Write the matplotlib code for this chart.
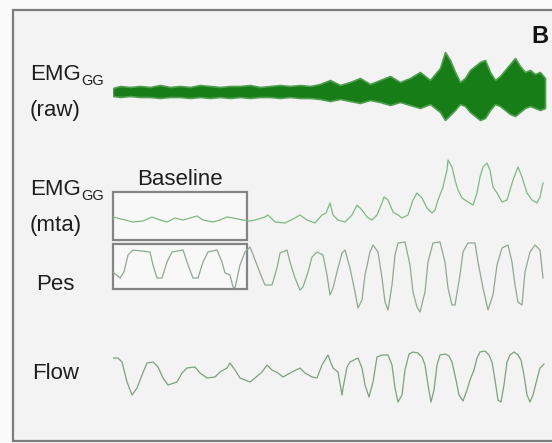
import numpy as np
import matplotlib.pyplot as plt
from matplotlib.patches import Rectangle

# -------------------------
# Data (time in s, signals in arbitrary units)
# -------------------------

# raw EMG envelope
raw_t = [0, 0.7, 1.7, 2.7, 3.7, 4.7, 5.7, 6.7, 7.7, 8.7, 9.7, 10.7, 11.7, 12.7,
         13.7, 14.7, 15.7, 16.7, 17.7, 18.7, 19.7, 20.7, 21.7, 22.7, 23.7, 24.7,
         25.7, 26.7, 27.7, 28.7, 29.7, 30.7, 31.7, 32.7, 33.2, 33.7, 34.2, 34.7,
         35.2, 35.7, 36.2, 36.7, 37.2, 37.7, 38.2, 38.7, 39.2, 39.7, 40.2, 40.7,
         41.2, 41.7, 42.2, 42.7, 43.2]
raw_hi = [4, 6, 5, 6, 5, 7, 5, 6, 5, 7, 6, 5, 6, 6,
          7, 5, 6, 7, 6, 7, 6, 8, 12, 7, 10, 14,
          8, 12, 16, 10, 14, 20, 12, 24, 40, 32, 20, 10,
          14, 22, 26, 30, 32, 20, 12, 16, 22, 28, 34, 26,
          20, 22, 18, 20, 14]
raw_lo = [-4, -5, -4, -5, -5, -6, -5, -5, -6, -5, -6, -5, -6, -5,
          -6, -5, -5, -6, -5, -6, -6, -7, -9, -7, -9, -11,
          -8, -10, -13, -10, -13, -16, -12, -20, -28, -23, -18, -12,
          -14, -20, -24, -28, -26, -18, -12, -14, -18, -22, -24, -20,
          -16, -14, -16, -18, -16]

# moving time average EMG
mta_t = [0.0, 1.2, 2.0, 3.0, 3.9, 4.7, 5.4, 6.2, 7.0, 7.7, 8.4, 9.0, 10.0, 10.7,
         11.4, 12.0, 13.0, 13.7, 14.2, 15.2, 15.5, 16.2, 17.2, 18.2, 18.7, 19.4,
         20.2, 20.9, 21.3, 21.7, 22.0, 22.5, 23.2, 23.9, 24.4, 24.9, 25.4, 25.9,
         26.4, 26.9, 27.1, 27.5, 28.0, 28.5, 28.9, 29.5, 30.0, 30.4, 30.9, 31.4,
         31.9, 32.2, 32.5, 33.0, 33.4, 33.5, 33.9, 34.2, 34.5, 34.9, 35.5, 36.0,
         36.4, 36.7, 37.0, 37.4, 37.7, 38.0, 38.4, 38.9, 39.4, 39.7, 40.0, 40.5,
         40.9, 41.4, 41.9, 42.4, 42.7, 43.0]
mta_v = [5, 2, 0, 1, 5, 2, 0, 4, 2, 4, 6, 2, 0, 2,
         5, 4, 2, 1, 2, 5, 7, 0, -1, 4, 7, 2,
         -1, 7, 9, 19, 7, 2, 0, 7, 17, 12, 5, 2,
         7, 19, 25, 22, 10, 7, 4, 7, 22, 29, 24, 14,
         9, 12, 22, 35, 52, 62, 55, 42, 32, 24, 20, 17,
         29, 45, 55, 59, 52, 35, 29, 20, 22, 32, 42, 55,
         45, 29, 22, 19, 25, 39]

# oesophageal pressure
pes_t = [0.0, 0.7, 1.1, 1.5, 2.0, 3.7, 4.0, 4.4, 4.9, 5.4, 5.9, 7.0, 7.5, 8.0,
         8.5, 9.0, 9.5, 10.4, 10.9, 11.2, 11.7, 12.0, 12.2, 12.7, 13.2, 13.7,
         13.9, 14.4, 14.9, 15.2, 15.9, 16.4, 16.7, 17.4, 17.7, 18.2, 18.7, 19.0,
         19.5, 19.9, 20.4, 21.0, 21.4, 21.7, 22.0, 22.5, 22.9, 23.2, 23.7, 24.2,
         24.5, 24.9, 25.2, 25.7, 26.0, 26.5, 26.9, 27.2, 27.5, 27.9, 28.2, 28.5,
         29.2, 29.7, 30.0, 30.4, 30.7, 31.2, 31.5, 32.0, 32.7, 33.2, 33.5, 33.9,
         34.2, 34.7, 35.0, 35.5, 36.2, 36.5, 37.0, 37.5, 38.0, 38.4, 38.9, 39.5,
         39.9, 40.2, 40.5, 40.9, 41.2, 41.7, 42.2, 42.7, 43.0]
pes_v = [-22, -28, -22, -5, 0, -2, -15, -28, -28, -12, -2, 0, -15, -28,
         -28, -12, -2, 0, -12, -23, -25, -37, -38, -15, -2, 3,
         -2, -15, -28, -35, -35, -18, -3, 0, -12, -28, -40, -37,
         -22, -7, -2, -5, -25, -45, -38, -18, -3, 0, -18, -42,
         -58, -50, -25, -2, 5, -2, -28, -52, -60, -35, -5, 7,
         8, -15, -42, -57, -62, -42, -12, 7, 8, -12, -38, -55,
         -55, -25, -2, 7, 7, -12, -38, -60, -45, -15, 2, 5,
         -12, -35, -52, -55, -22, -2, 5, 0, -28]

# airflow
flow_t = [0.0, 0.5, 0.9, 1.4, 1.9, 2.4, 2.9, 3.4, 4.0, 4.5, 5.0, 5.5, 6.4, 6.9,
          7.4, 8.2, 8.7, 9.4, 10.2, 10.7, 11.4, 11.7, 12.2, 12.7, 13.7, 14.2,
          14.9, 15.4, 15.9, 16.5, 17.0, 17.9, 18.7, 19.2, 19.9, 20.4, 20.9, 21.2,
          21.5, 21.8, 22.0, 22.5, 22.9, 23.0, 23.4, 23.7, 24.5, 24.9, 25.2, 25.6,
          26.0, 26.4, 26.9, 27.5, 27.9, 28.2, 28.5, 28.9, 29.2, 29.6, 30.0, 30.5,
          30.9, 31.2, 31.5, 31.8, 32.1, 32.4, 32.7, 33.2, 33.6, 33.9, 34.3, 34.6,
          35.0, 35.4, 35.7, 36.1, 36.4, 36.7, 37.2, 37.6, 37.9, 38.2, 38.5, 38.8,
          39.1, 39.4, 39.7, 40.1, 40.5, 40.8, 41.1, 41.4, 41.7, 42.0, 42.3, 42.7,
          43.1]
flow_v = [22, 22, 18, -2, -15, -8, 5, 17, 18, 13, 2, -5, -2, 7,
          12, 13, 7, 2, 3, 8, 12, 17, 10, 2, -2, 2,
          8, 15, 10, 7, 3, 8, 12, 7, 3, 2, 15, 20,
          25, 17, 12, 8, -15, -8, 13, 18, 22, 12, -5, -17,
          -2, 23, 25, 25, 15, -8, -22, -15, 10, 26, 28, 27,
          23, 15, -5, -22, -10, 15, 25, 26, 24, 18, 0, -15,
          -21, -10, 0, 10, 22, 28, 29, 25, 18, 0, -20, -22,
          -5, 18, 25, 28, 25, 20, 5, -15, -22, -15, -3, 12,
          16]

labels = ["Pes", "Flow"]
panel = "B"
t_end = 43.5

# -------------------------
# Figure
# -------------------------

W, H = 552, 443
fig = plt.figure(figsize=(W / 100, H / 100), dpi=100)
fig.patch.set_facecolor("#fbfbfb")

font = ["Liberation Sans", "DejaVu Sans"]
txt = "#1e1e1e"

# overlay in pixel space for frame, boxes and labels
ov = fig.add_axes([0, 0, 1, 1])
ov.set_xlim(0, W)
ov.set_ylim(H, 0)
ov.axis("off")

ov.add_patch(Rectangle((13, 10), 560, 431, facecolor="#f3f3f3",
                       edgecolor="#7c7c7c", lw=1.6, zorder=0))
ov.add_patch(Rectangle((113, 192), 134, 48, facecolor="#f8f8f8",
                       edgecolor="#858585", lw=1.6, zorder=1))
ov.add_patch(Rectangle((113, 244), 134, 45, facecolor="#f8f8f8",
                       edgecolor="#858585", lw=1.6, zorder=1))

renderer = fig.canvas.get_renderer()

def emg_label(y, sub):
    t = ov.text(30, y, "EMG", fontsize=16, family=font, color=txt, va="baseline")
    bb = t.get_window_extent(renderer=renderer)
    x_end = bb.x1 * W / fig.bbox.width
    ov.text(x_end + 0.5, y + 5, "GG", fontsize=10.5, family=font, color=txt,
            va="baseline")
    ov.text(30, y + 36, sub, fontsize=16, family=font, color=txt, va="baseline")

emg_label(80, "(raw)")
emg_label(195, "(mta)")
ov.text(36, 290, labels[0], fontsize=16, family=font, color=txt, va="baseline")
ov.text(32, 379, labels[1], fontsize=16, family=font, color=txt, va="baseline")
ov.text(180, 185, "Baseline", fontsize=16, family=font, color=txt,
        va="baseline", ha="center")
ov.text(531, 43, panel, fontsize=17, family=font, color="#111111",
        va="baseline", fontweight="bold")

# -------------------------
# Traces
# -------------------------

def trace_ax(top, bottom, ref):
    ax = fig.add_axes([113 / W, 1 - bottom / H, 435 / W, (bottom - top) / H])
    ax.set_xlim(0, t_end)
    ax.set_ylim(ref - bottom, ref - top)
    ax.patch.set_alpha(0)
    ax.axis("off")
    return ax

ax1 = trace_ax(40, 130, 92)
ax1.fill_between(raw_t, raw_lo, raw_hi, facecolor="#177d17", lw=1.2,
                 edgecolor="#4f9f4f")

ax2 = trace_ax(150, 230, 222)
ax2.plot(mta_t, mta_v, color="#7cbb80", lw=0.9)

ax3 = trace_ax(235, 320, 250)
ax3.plot(pes_t, pes_v, color="#8eaa90", lw=0.9)

ax4 = trace_ax(340, 410, 380)
ax4.plot(flow_t, flow_v, color="#7ca27e", lw=0.9)

plt.savefig("out.png", dpi=100, facecolor=fig.get_facecolor())
